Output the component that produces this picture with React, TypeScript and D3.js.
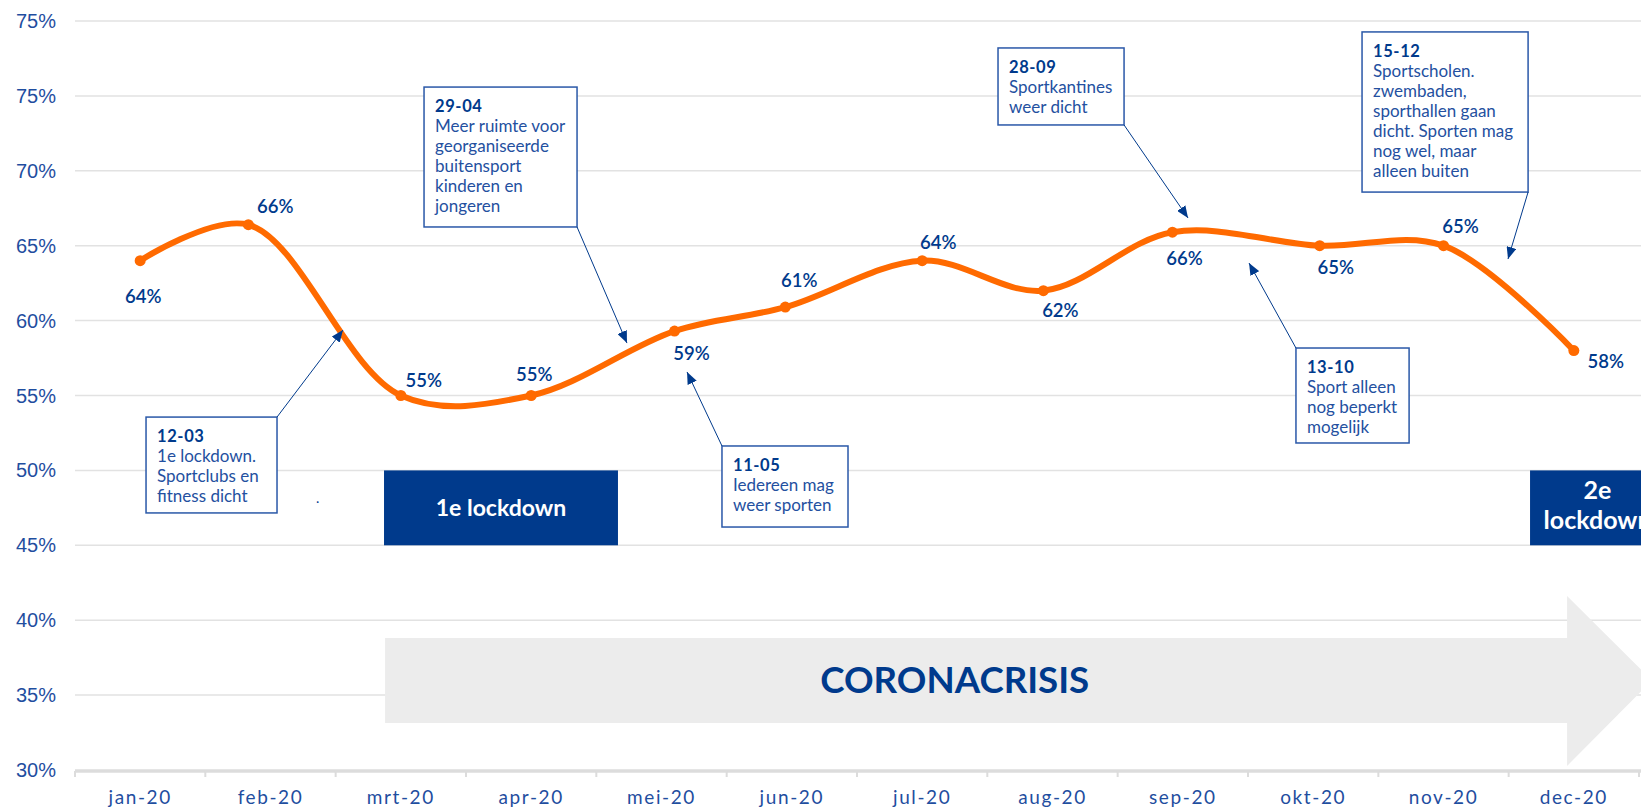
import React from "react";
import * as d3 from "d3";

// months on the axis
const months = ["jan-20", "feb-20", "mrt-20", "apr-20", "mei-20", "jun-20", "jul-20", "aug-20", "sep-20", "okt-20", "nov-20", "dec-20"];
// where each measurement sits (month index, measured on the date axis)
const pointPos = [0, 0.83, 2, 3, 4.1, 4.95, 6, 6.93, 7.92, 9.05, 10, 11];
// share of people doing sport (%)
const values = [64, 66.4, 55, 55, 59.3, 60.9, 64, 62, 65.9, 65, 65, 58];
const valueLabels = ["64%", "66%", "55%", "55%", "59%", "61%", "64%", "62%", "66%", "65%", "65%", "58%"];

// y axis
const yTicks = [30, 35, 40, 45, 50, 55, 60, 65, 70, 75, 80];
const yTickLabels = ["30%", "35%", "40%", "45%", "50%", "55%", "60%", "65%", "70%", "75%", "75%"];

// label offsets in px relative to the point (dx, dy of baseline)
const labelOffsets: [number, number][] = [
  [3, 42], [27, -12], [23, -9], [3, -15], [17, 29], [14, -20],
  [16, -12], [17, 26], [12, 33], [16, 28], [17, -13], [32, 17],
];

// annotation callouts, in chart units (month index / percent)
const notes = [
  { date: "12-03", lines: ["1e lockdown.", "Sportclubs en", "fitness dicht"], x0: 0.045, x1: 1.05, yTop: 53.56, yBot: 47.16, from: "tr", tipX: 1.556, tipY: 59.37 },
  { date: "29-04", lines: ["Meer ruimte voor", "georganiseerde", "buitensport", "kinderen en", "jongeren"], x0: 2.178, x1: 3.352, yTop: 75.59, yBot: 66.25, from: "br", tipX: 3.735, tipY: 58.5 },
  { date: "11-05", lines: ["Iedereen mag", "weer sporten"], x0: 4.464, x1: 5.431, yTop: 51.63, yBot: 46.22, from: "tl", tipX: 4.196, tipY: 56.57 },
  { date: "28-09", lines: ["Sportkantines", "weer dicht"], x0: 6.582, x1: 7.549, yTop: 78.2, yBot: 73.06, from: "br", tipX: 8.04, tipY: 66.85 },
  { date: "13-10", lines: ["Sport alleen", "nog beperkt", "mogelijk"], x0: 8.868, x1: 9.736, yTop: 58.17, yBot: 51.83, from: "tl", tipX: 8.508, tipY: 63.84 },
  { date: "15-12", lines: ["Sportscholen.", "zwembaden,", "sporthallen gaan", "dicht. Sporten mag", "nog wel, maar", "alleen buiten"], x0: 9.375, x1: 10.649, yTop: 79.27, yBot: 68.58, from: "br", tipX: 10.495, tipY: 64.11 },
];

// lockdown periods and the corona arrow, in chart units
const lockdowns = [
  { lines: ["1e lockdown"], x0: 1.871, x1: 3.666 },
  { lines: ["2e", "lockdown"], x0: 10.664, x1: 11.7 },
];
const lockdownRange = [45, 50];
const crisisArrow = { x0: 1.879, bodyTop: 38.81, bodyBot: 33.14, headX: 10.948, headTop: 41.62, headBot: 30.27, tipX: 11.6 };

const W = 1641;
const H = 809;
const navy = "#003a8c";
const blue = "#1f4e9f";
const orange = "#ff6a00";
const font = "Lato, 'Open Sans', sans-serif";

export default function App() {
  const x = d3.scaleLinear().domain([-0.5, 11.5]).range([75, 1639]);
  const y = d3.scaleLinear().domain([30, 80]).range([770, 21]);

  const pts = values.map((v, i) => ({ p: pointPos[i], v }));
  // smoothed line, like the spreadsheet's "smooth line" option
  const line = d3
    .line<{ p: number; v: number }>()
    .x((d) => x(d.p))
    .y((d) => y(d.v))
    .curve(d3.curveCatmullRom.alpha(0.5));

  const bounds = d3.range(13).map((i) => i - 0.5);
  const midY = (crisisArrow.bodyTop + crisisArrow.bodyBot) / 2;
  const arrowPts: [number, number][] = [
    [x(crisisArrow.x0), y(crisisArrow.bodyTop)],
    [x(crisisArrow.headX), y(crisisArrow.bodyTop)],
    [x(crisisArrow.headX), y(crisisArrow.headTop)],
    [x(crisisArrow.tipX), y(midY)],
    [x(crisisArrow.headX), y(crisisArrow.headBot)],
    [x(crisisArrow.headX), y(crisisArrow.bodyBot)],
    [x(crisisArrow.x0), y(crisisArrow.bodyBot)],
  ];

  return (
    <svg width={W} height={H} style={{ position: "absolute", left: 0, top: 0, background: "#fff" }} fontFamily={font}>
      <defs>
        <marker id="head" viewBox="0 0 12 10" refX="12" refY="5" markerWidth="12" markerHeight="10" markerUnits="userSpaceOnUse" orient="auto">
          <path d="M0,0 L12,5 L0,10 Z" fill={navy} />
        </marker>
      </defs>

      {/* gridlines */}
      {yTicks.slice(1).map((t) => (
        <line key={t} x1={75} x2={W} y1={y(t)} y2={y(t)} stroke="#e2e2e2" strokeWidth={1.5} />
      ))}

      {/* y labels */}
      {yTicks.map((t, i) => (
        <text key={t} x={56} y={y(t) + 7} textAnchor="end" fontSize={20} fill={blue} fontFamily="'Liberation Sans', Arial, sans-serif">
          {yTickLabels[i]}
        </text>
      ))}

      {/* corona arrow */}
      <polygon points={arrowPts.map((p) => p.join(",")).join(" ")} fill="#ececec" />
      <text x={x(6.25)} y={y(midY) + 13} textAnchor="middle" fontSize={36} fontWeight={700} fill={navy} textLength={269} lengthAdjust="spacingAndGlyphs">
        CORONACRISIS
      </text>

      {/* lockdown boxes */}
      {lockdowns.map((b, i) => {
        const cx = (x(b.x0) + x(b.x1)) / 2;
        const cy = (y(lockdownRange[0]) + y(lockdownRange[1])) / 2;
        return (
          <g key={i}>
            <rect x={x(b.x0)} y={y(lockdownRange[1])} width={x(b.x1) - x(b.x0)} height={y(lockdownRange[0]) - y(lockdownRange[1])} fill={navy} />
            {b.lines.length === 1 ? (
              <text x={cx} y={cy + 8} textAnchor="middle" fontSize={23} fontWeight={700} fill="#fff">{b.lines[0]}</text>
            ) : (
              b.lines.map((l, j) => (
                <text key={j} x={cx} y={cy - 8.5 + j * 30} textAnchor="middle" fontSize={25} fontWeight={700} fill="#fff">{l}</text>
              ))
            )}
          </g>
        );
      })}

      {/* x axis */}
      <line x1={75} x2={W} y1={771} y2={771} stroke="#dcdcdc" strokeWidth={3.5} />
      {bounds.map((b) => (
        <line key={b} x1={x(b)} x2={x(b)} y1={771} y2={777} stroke="#dcdcdc" strokeWidth={2} />
      ))}
      {months.map((m, i) => (
        <text key={m} x={x(i)} y={804} textAnchor="middle" fontSize={19} letterSpacing={1.6} fill={blue}>
          {m}
        </text>
      ))}

      {/* line + markers */}
      <path d={line(pts) || ""} fill="none" stroke={orange} strokeWidth={6} strokeLinecap="round" />
      {pts.map((d, i) => (
        <circle key={i} cx={x(d.p)} cy={y(d.v)} r={5.5} fill={orange} />
      ))}
      {pts.map((d, i) => (
        <text key={i} x={x(d.p) + labelOffsets[i][0]} y={y(d.v) + labelOffsets[i][1]} textAnchor="middle" fontSize={18.5} fontWeight={600} fill={navy}>
          {valueLabels[i]}
        </text>
      ))}

      {/* annotations */}
      {notes.map((n) => {
        const l = x(n.x0), r = x(n.x1), t = y(n.yTop), b = y(n.yBot);
        const sx = n.from.includes("r") ? r : l;
        const sy = n.from.includes("t") ? t : b;
        return (
          <g key={n.date}>
            <rect x={l} y={t} width={r - l} height={b - t} fill="#fff" stroke="#2a58a8" strokeWidth={1.5} />
            <line x1={sx} y1={sy} x2={x(n.tipX)} y2={y(n.tipY)} stroke={navy} strokeWidth={1} markerEnd="url(#head)" />
            <text x={l + 11} y={t + 25} fontSize={16.5} fontWeight={700} letterSpacing={0.6} fill={navy}>{n.date}</text>
            {n.lines.map((s, j) => (
              <text key={j} x={l + 11} y={t + 45 + j * 20} fontSize={17} fill="#2450a0">{s}</text>
            ))}
          </g>
        );
      })}
      <text x={x(1.349)} y={y(47.82)} fontSize={14} fill={navy}>.</text>
    </svg>
  );
}
